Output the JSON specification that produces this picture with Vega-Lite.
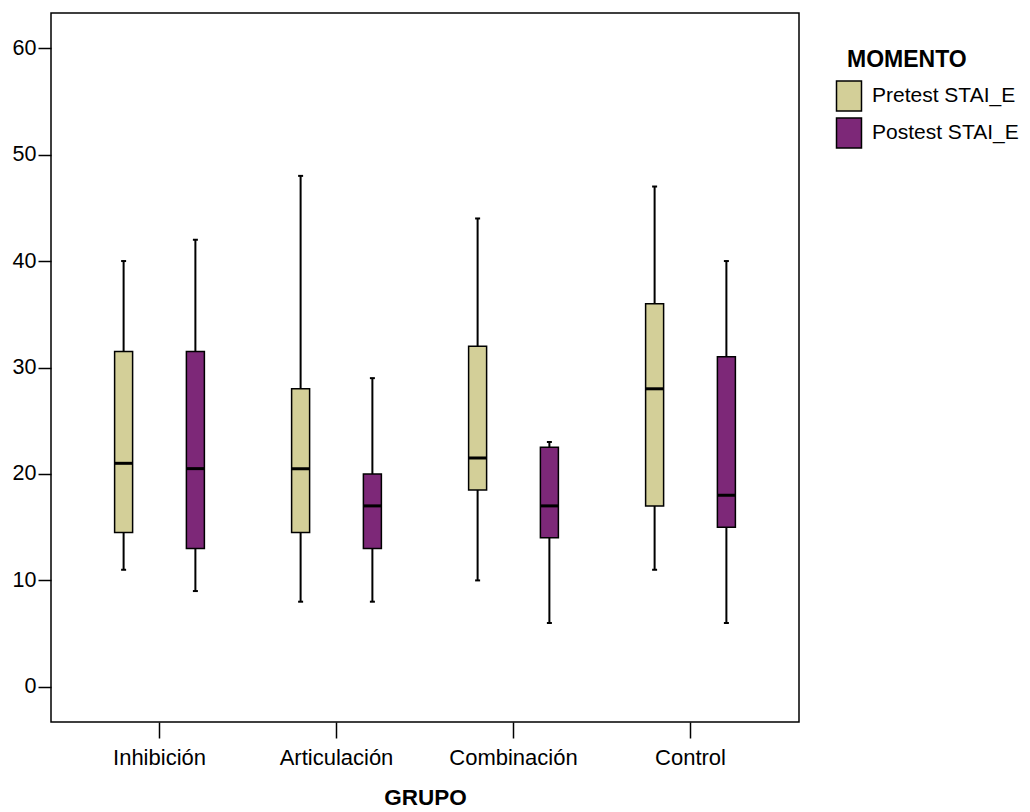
{
  "$schema": "https://vega.github.io/schema/vega-lite/v6.json",
  "autosize": {"type": "none"},
  "padding": {"left": 51, "top": 13, "right": 231, "bottom": 90},
  "width": 748,
  "height": 709,
  "background": "white",
  "config": {
    "font": "Liberation Sans",
    "view": {"stroke": "#000000", "strokeWidth": 1.5},
    "axis": {"grid": false, "labelColor": "#000", "titleColor": "#000", "tickColor": "#000", "domain": false},
    "axisY": {"tickSize": 13, "tickWidth": 1.5, "labelFontSize": 21.5, "labelPadding": 2},
    "axisX": {"tickSize": 16, "tickWidth": 1.5, "labelFontSize": 22, "labelPadding": 9, "titleFontSize": 22.5, "titleFontWeight": "bold", "titlePadding": 18, "labelAngle": 0}
  },
  "data": {
    "values": [
      {"grupo": "Inhibición", "momento": "Pretest STAI_E", "low": 11, "q1": 14.5, "median": 21, "q3": 31.5, "high": 40},
      {"grupo": "Inhibición", "momento": "Postest STAI_E", "low": 9, "q1": 13, "median": 20.5, "q3": 31.5, "high": 42},
      {"grupo": "Articulación", "momento": "Pretest STAI_E", "low": 8, "q1": 14.5, "median": 20.5, "q3": 28, "high": 48},
      {"grupo": "Articulación", "momento": "Postest STAI_E", "low": 8, "q1": 13, "median": 17, "q3": 20, "high": 29},
      {"grupo": "Combinación", "momento": "Pretest STAI_E", "low": 10, "q1": 18.5, "median": 21.5, "q3": 32, "high": 44},
      {"grupo": "Combinación", "momento": "Postest STAI_E", "low": 6, "q1": 14, "median": 17, "q3": 22.5, "high": 23},
      {"grupo": "Control", "momento": "Pretest STAI_E", "low": 11, "q1": 17, "median": 28, "q3": 36, "high": 47},
      {"grupo": "Control", "momento": "Postest STAI_E", "low": 6, "q1": 15, "median": 18, "q3": 31, "high": 40}
    ]
  },
  "encoding": {
    "x": {
      "field": "grupo", "type": "nominal",
      "sort": ["Inhibición", "Articulación", "Combinación", "Control"],
      "scale": {"paddingInner": 0, "paddingOuter": 0.113},
      "axis": {"title": "GRUPO"}
    },
    "xOffset": {
      "field": "momento", "type": "nominal",
      "sort": ["Pretest STAI_E", "Postest STAI_E"],
      "scale": {"paddingInner": 0, "paddingOuter": 0.233}
    }
  },
  "layer": [
    {
      "mark": {"type": "rule", "color": "#000", "strokeWidth": 2},
      "encoding": {
        "y": {
          "field": "low", "type": "quantitative",
          "scale": {"domain": [-3.3, 63.3], "nice": false, "zero": false},
          "axis": {"title": null, "values": [0, 10, 20, 30, 40, 50, 60]}
        },
        "y2": {"field": "high"}
      }
    },
    {
      "mark": {"type": "bar", "size": 18, "stroke": "#000", "strokeWidth": 1.5, "opacity": 1},
      "encoding": {
        "y": {"field": "q1", "type": "quantitative"},
        "y2": {"field": "q3"},
        "color": {
          "field": "momento", "type": "nominal",
          "sort": ["Pretest STAI_E", "Postest STAI_E"],
          "scale": {"domain": ["Pretest STAI_E", "Postest STAI_E"], "range": ["#D3CF98", "#7D2878"]},
          "legend": {
            "title": "MOMENTO", "orient": "none", "legendX": 796, "legendY": 36,
            "titleFontSize": 23, "titleFontWeight": "bold", "titleColor": "#000", "titlePadding": 8,
            "labelFontSize": 21, "labelColor": "#000", "labelOffset": 7, "rowPadding": 1,
            "symbolType": "M-0.833,-1H0.833V1H-0.833Z", "symbolSize": 900, "symbolOpacity": 1,
            "symbolStrokeColor": "#000", "symbolStrokeWidth": 1.5, "symbolOffset": -14
          }
        }
      }
    },
    {
      "mark": {"type": "tick", "color": "#000", "size": 18, "thickness": 3, "opacity": 1},
      "encoding": {"y": {"field": "median", "type": "quantitative"}}
    },
    {
      "mark": {"type": "tick", "color": "#000", "size": 5, "thickness": 2, "opacity": 1},
      "encoding": {"y": {"field": "low", "type": "quantitative"}}
    },
    {
      "mark": {"type": "tick", "color": "#000", "size": 5, "thickness": 2, "opacity": 1},
      "encoding": {"y": {"field": "high", "type": "quantitative"}}
    }
  ]
}
